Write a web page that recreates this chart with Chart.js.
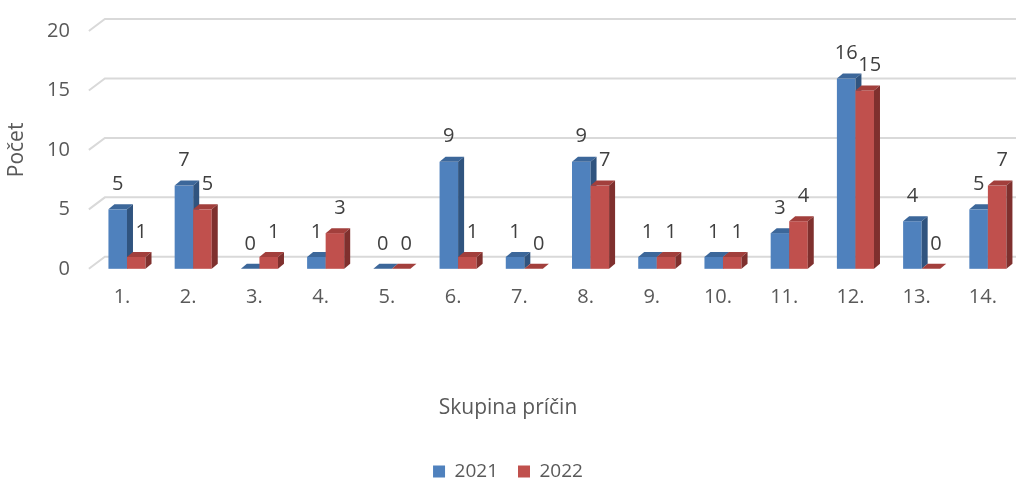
<!DOCTYPE html>
<html>
<head>
<meta charset="utf-8">
<script src="https://cdn.jsdelivr.net/npm/chart.js@4/dist/chart.umd.min.js"></script>
<style>
html, body { margin: 0; padding: 0; background: #fff; }
#wrap { width: 1016px; height: 481px; }
</style>
</head>
<body>
<div id="wrap"><canvas id="chartJSContainer"></canvas></div>
<script>
var categories = ['1.', '2.', '3.', '4.', '5.', '6.', '7.', '8.', '9.', '10.', '11.', '12.', '13.', '14.'];
var values2021 = [5, 7, 0, 1, 0, 9, 1, 9, 1, 1, 3, 16, 4, 5];
var values2022 = [1, 5, 1, 3, 0, 1, 0, 7, 1, 1, 4, 15, 0, 7];
var seriesNames = ['2021', '2022'];
var yTicks = [0, 5, 10, 15, 20];

var textColor = '#595959';
var fontFamily = "'Open Sans', 'Liberation Sans', sans-serif";

// faces of the fake 3d bars: front, top, side
var faces = [
    { front: '#4f81bd', top: '#3c679a', side: '#30547f', labelShift: 0 },
    { front: '#c0504d', top: '#a23f3c', side: '#7f302e', labelShift: 5 }
];
var depthX = 6, depthY = 5, barShift = 5;
var wallX = 16, wallY = 12;

var bar3d = {
    id: 'bar3d',
    beforeDatasetDraw: function () {
        return false; // bars are painted below
    },
    beforeDatasetsDraw: function (chart) {
        var ctx = chart.ctx;
        var y = chart.scales.y;
        var area = chart.chartArea;
        ctx.save();
        ctx.strokeStyle = '#d9d9d9';
        ctx.lineWidth = 2;
        yTicks.forEach(function (v) {
            var py = y.getPixelForValue(v);
            ctx.beginPath();
            ctx.moveTo(area.left, py);
            ctx.lineTo(area.left + wallX, py - wallY);
            ctx.lineTo(area.right, py - wallY);
            ctx.stroke();
        });
        ctx.restore();
    },
    afterDatasetsDraw: function (chart) {
        var ctx = chart.ctx;
        ctx.save();
        chart.data.datasets.forEach(function (ds, di) {
            var f = faces[di];
            chart.getDatasetMeta(di).data.forEach(function (bar) {
                var p = bar.getProps(['x', 'y', 'base', 'width'], true);
                var l = p.x - p.width / 2 + barShift;
                var r = p.x + p.width / 2 + barShift;
                var t = Math.min(p.y, p.base), b = p.base;

                ctx.fillStyle = f.front;
                ctx.fillRect(l, t, r - l, b - t);

                ctx.fillStyle = f.top;
                ctx.beginPath();
                ctx.moveTo(l, t);
                ctx.lineTo(l + depthX, t - depthY);
                ctx.lineTo(r + depthX, t - depthY);
                ctx.lineTo(r, t);
                ctx.closePath();
                ctx.fill();

                ctx.fillStyle = f.side;
                ctx.beginPath();
                ctx.moveTo(r, t);
                ctx.lineTo(r + depthX, t - depthY);
                ctx.lineTo(r + depthX, b - depthY);
                ctx.lineTo(r, b);
                ctx.closePath();
                ctx.fill();
            });
        });

        ctx.fillStyle = '#404040';
        ctx.font = '20px ' + fontFamily;
        ctx.textAlign = 'center';
        ctx.textBaseline = 'middle';
        chart.data.datasets.forEach(function (ds, di) {
            chart.getDatasetMeta(di).data.forEach(function (bar, i) {
                var p = bar.getProps(['x', 'y'], true);
                ctx.fillText(String(ds.data[i]), p.x + barShift + faces[di].labelShift, p.y - 25);
            });
        });
        ctx.restore();
    }
};

var options = {
    type: 'bar',
    data: {
        labels: categories,
        datasets: [
            {
                label: seriesNames[0],
                data: values2021,
                backgroundColor: faces[0].front,
                borderWidth: 0
            },
            {
                label: seriesNames[1],
                data: values2022,
                backgroundColor: faces[1].front,
                borderWidth: 0
            }
        ]
    },
    options: {
        responsive: true,
        maintainAspectRatio: false,
        animation: false,
        layout: { padding: { top: 28, left: 0, right: 0, bottom: -10 } },
        datasets: {
            bar: { categoryPercentage: 0.56, barPercentage: 1.0 }
        },
        scales: {
            x: {
                grid: { display: false, drawTicks: false },
                border: { display: false },
                ticks: {
                    color: textColor,
                    font: { family: fontFamily, size: 20 },
                    padding: 16,
                    maxRotation: 0
                }
            },
            y: {
                min: 0,
                max: 20,
                grid: { display: false, drawTicks: false },
                border: { display: false },
                afterBuildTicks: function (scale) {
                    scale.ticks = yTicks.map(function (v) { return { value: v }; });
                },
                ticks: {
                    color: textColor,
                    font: { family: fontFamily, size: 20 },
                    padding: 19
                },
                title: {
                    display: true,
                    text: 'Počet',
                    color: textColor,
                    font: { family: fontFamily, size: 21, lineHeight: 1 },
                    padding: { top: 7, bottom: 0 }
                }
            }
        },
        plugins: {
            // x axis title, centred on the whole canvas like the original
            title: {
                display: true,
                position: 'bottom',
                weight: 500,
                text: 'Skupina príčin',
                color: textColor,
                font: { family: fontFamily, size: 21, weight: 'normal' },
                padding: { top: 71, bottom: 21 }
            },
            legend: {
                position: 'bottom',
                labels: {
                    color: textColor,
                    font: { family: fontFamily, size: 19 },
                    boxWidth: 12,
                    boxHeight: 12,
                    padding: 20
                }
            },
            tooltip: { enabled: false }
        }
    },
    plugins: [bar3d]
};

var ctx = document.getElementById('chartJSContainer').getContext('2d');
new Chart(ctx, options);
</script>
</body>
</html>
